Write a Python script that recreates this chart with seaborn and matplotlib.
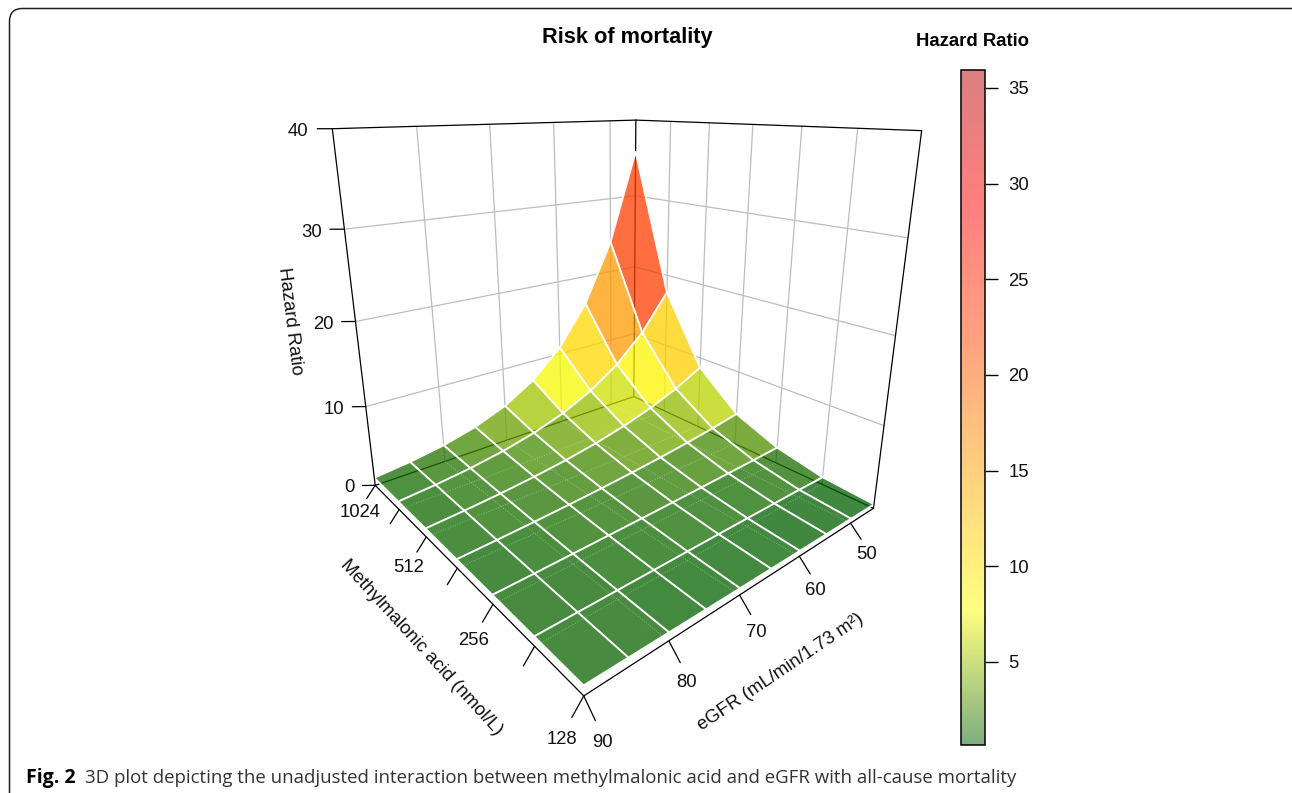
import numpy as np
import matplotlib
matplotlib.use("Agg")
import matplotlib.pyplot as plt
from matplotlib.cm import ScalarMappable
from matplotlib.colors import Normalize
from matplotlib.patches import FancyBboxPatch
from matplotlib.transforms import IdentityTransform
from mpl_toolkits.mplot3d import proj3d
import seaborn as sns

# nodes of the surface
egfr = [90, 85, 80, 75, 70, 65, 60, 55, 50, 45]
mma = [128, 181, 256, 362, 512, 724, 1024]
hr_128 = [1.00, 0.93, 0.86, 0.79, 0.73, 0.68, 0.63, 0.58, 0.54, 0.50]
hr_181 = [1.00, 1.00, 1.00, 1.00, 1.00, 1.00, 1.00, 0.98, 0.96, 0.92]
hr_256 = [1.00, 1.08, 1.18, 1.28, 1.38, 1.50, 1.63, 1.77, 1.91, 2.08]
hr_362 = [1.00, 1.17, 1.38, 1.62, 1.90, 2.23, 2.62, 3.07, 3.60, 4.23]
hr_512 = [1.00, 1.27, 1.61, 2.05, 2.60, 3.31, 4.21, 5.35, 6.79, 8.63]
hr_724 = [1.00, 1.38, 1.89, 2.60, 3.58, 4.91, 6.76, 9.30, 12.8, 17.6]
hr_1024 = [1.00, 1.49, 2.21, 3.30, 4.91, 7.31, 10.9, 16.2, 24.1, 35.9]

z_ticks = [0, 10, 20, 30, 40]
egfr_ticks = [90, 80, 70, 60, 50]
mma_ticks = [128, 181, 256, 362, 512, 724, 1024]
mma_labels = {128: "128", 256: "256", 512: "512", 1024: "1024"}
cbar_ticks = [5, 10, 15, 20, 25, 30, 35]
ramp = ["#005f00", "yellow", "orange", "orangered", "red", "#b80000"]

W, H = 1292, 793
tick_fs = 13.3

sns.set_theme(style="white")
plt.rcParams["font.family"] = ["Liberation Sans", "DejaVu Sans"]


def fx(px):
    return px / W


def fy(py):
    return 1 - py / H


fig = plt.figure(figsize=(W / 100, H / 100), dpi=100, facecolor="white")

ax = fig.add_axes([fx(286.3), fy(659.1), 644.0 / W, 644.0 / H], projection="3d", computed_zorder=False)
ax.set_xlim(90, 45)
ax.set_ylim(np.log2(128), np.log2(1024))
ax.set_zlim(0, 40)
ax.view_init(elev=18.0914, azim=-129.9401, roll=0.0382)
ax.set_proj_type("persp", focal_length=0.2045)
ax.set_box_aspect((1.0004, 0.9979, 1.0))
ax.set_xticks([])
ax.set_yticks([])
ax.set_zticks([])
ax.set_axis_off()

x0, x1 = egfr[0], egfr[-1]
y_nodes = np.log2(mma)
y0, y1 = y_nodes[0], y_nodes[-1]


def line3(xs, ys, zs, color="black", lw=0.9, zorder=5, **kw):
    ln, = ax.plot(xs, ys, zs, color=color, lw=lw, zorder=zorder, clip_on=False, **kw)
    return ln


def label3(x, y, z, s, ha="center"):
    # plain text placed where the 3D point lands on the axes
    xp, yp, _ = proj3d.proj_transform(x, y, z, ax.get_proj())
    ax.text2D(xp, yp, s, transform=ax.transData, ha=ha, va="center", fontsize=tick_fs, color="#111111", clip_on=False)


# back walls
grid = "#bdbdbd"
for z in z_ticks[1:-1]:
    line3([x0, x1], [y1, y1], [z, z], grid, 0.9, 1)
    line3([x1, x1], [y1, y0], [z, z], grid, 0.9, 1)
for e in egfr_ticks[1:]:
    line3([e, e], [y1, y1], [0, 40], grid, 0.9, 1)
for m in y_nodes[1:-1]:
    line3([x1, x1], [m, m], [0, 40], grid, 0.9, 1)

# back edges of the box, seen through the surface
line3([x0, x1], [y1, y1], [0, 0], zorder=2)
line3([x1, x1], [y1, y0], [0, 0], zorder=2)
line3([x1, x1], [y1, y1], [0, 40], zorder=2)

# surface, one colour for each facet
Z = np.array([hr_128, hr_181, hr_256, hr_362, hr_512, hr_724, hr_1024])
X, Y = np.meshgrid(egfr, y_nodes)
cmap = sns.blend_palette(ramp, n_colors=256, as_cmap=True)
norm = Normalize(0.66, 35.94)
means = (Z[:-1, :-1] + Z[1:, :-1] + Z[:-1, 1:] + Z[1:, 1:]) / 4
fc = cmap(norm(means))
fc[..., 3] = 0.75
surf = ax.plot_surface(X, Y, Z, facecolors=fc, rstride=1, cstride=1, shade=False, zorder=3)
surf.set_edgecolor("white")
surf.set_linewidth(1.3)
surf.set_clip_on(False)

# floor grid, it shows faint and dotted through the surface
for e in egfr_ticks[1:]:
    line3([e, e], [y0, y1], [0, 0], "white", 0.7, 4, ls=":", alpha=0.35)
for m in y_nodes[1:-1]:
    line3([x0, x1], [m, m], [0, 0], "white", 0.7, 4, ls=":", alpha=0.35)

# outer edges of the box
line3([x0, x0], [y0, y1], [0, 0])
line3([x0, x1], [y0, y0], [0, 0])
line3([x0, x0], [y1, y1], [0, 40])
line3([x1, x1], [y0, y0], [0, 40])
line3([x0, x1], [y1, y1], [40, 40])
line3([x1, x1], [y1, y0], [40, 40])

# z axis ticks, drawn out of the left corner
for z in z_ticks:
    line3([x0, x0 + 1.3], [y1, y1 + 0.07], [z, z])
    label3(x0 + 2.1, y1 + 0.11, z - 0.3, str(z), ha="right")
# methylmalonic acid ticks
for m in mma_ticks:
    y = np.log2(m)
    line3([x0, x0 + 1.3], [y, y], [0, -1.3])
    if m in mma_labels:
        label3(x0 + 2.4, y, -2.7, mma_labels[m])
# eGFR ticks
for e in egfr_ticks:
    line3([e, e], [y0, y0 - 0.105], [0, -1.25])
    label3(e, y0 - 0.165, -2.7, str(e))

fig.text(fx(290.5), fy(321), "Hazard Ratio", rotation=-83, ha="center", va="center", fontsize=13.4, color="#111111")
fig.text(fx(421), fy(648), "Methylmalonic acid (nmol/L)", rotation=-47.5, ha="center", va="center", fontsize=13.4, color="#111111")
fig.text(fx(781), fy(672), "eGFR (mL/min/1.73 m²)", rotation=34, ha="center", va="center", fontsize=13.4, color="#111111")

fig.text(fx(627), fy(37), "Risk of mortality", ha="center", va="center", fontsize=15.7, fontweight="bold", color="black")
fig.text(fx(972.5), fy(42), "Hazard Ratio", ha="center", va="center", fontsize=13.3, fontweight="bold", color="black")

# colour key
cax = fig.add_axes([fx(961), fy(745), 24 / W, 675 / H])
sm = ScalarMappable(norm=norm, cmap=cmap)
cb = fig.colorbar(sm, cax=cax)
cb.solids.set_alpha(0.5)
cb.solids.set_edgecolor("none")
cb.set_ticks(cbar_ticks)
cb.ax.tick_params(right=True, length=9, width=1, color="black", labelsize=tick_fs, labelcolor="#111111", pad=8)
cb.outline.set_edgecolor("black")
cb.outline.set_linewidth(1.1)

# page frame runs off the right and bottom of the page
frame = FancyBboxPatch((9.5, -30), 1298.5, H - 8.5 + 30, boxstyle="round,pad=0,rounding_size=13", fc="none", ec="#222222", lw=1.1,
                       transform=IdentityTransform(), clip_on=False)
fig.add_artist(frame)
fig.text(fx(26), fy(783), "Fig. 2", family=["Open Sans"], fontweight="bold", fontsize=14, ha="left", va="baseline", color="black")
fig.text(fx(85), fy(783), "3D plot depicting the unadjusted interaction between methylmalonic acid and eGFR with all-cause mortality",
         family=["Open Sans"], fontsize=13.4, ha="left", va="baseline", color="#333333")

fig.savefig("out.png", dpi=100)
